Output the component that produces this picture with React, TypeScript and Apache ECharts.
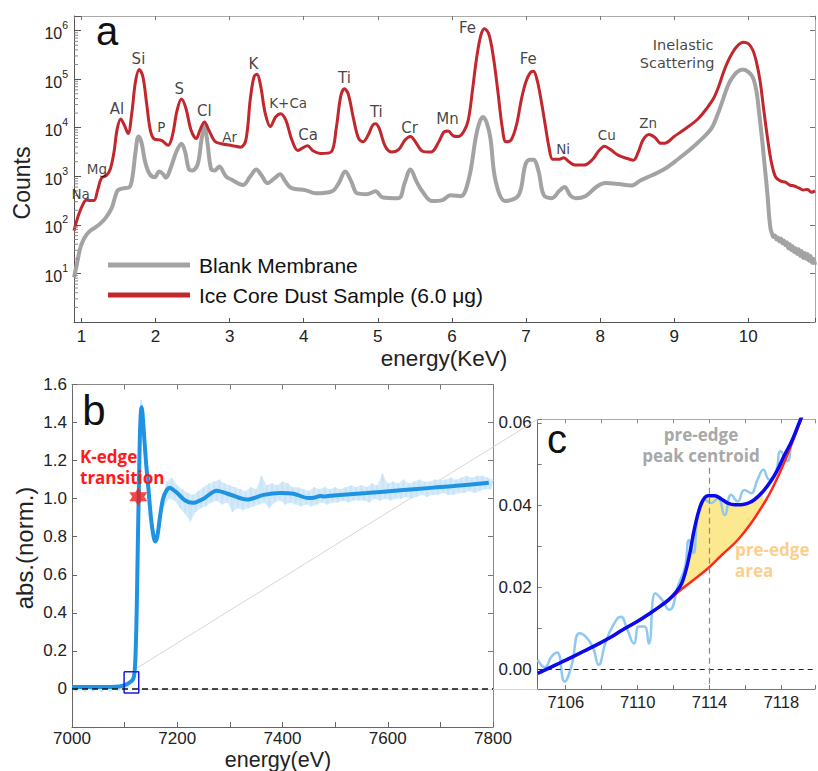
import React, { useEffect, useRef } from 'react';
import * as echarts from 'echarts';

// ---------- Panel a : XRF spectra, [energy keV, log10(counts)] ----------
const blankMembrane: number[][] = [
  [0.9, 0.92], [0.94, 1.2], [0.98, 1.5], [1.02, 1.67], [1.07, 1.8], [1.12, 1.88], [1.18, 1.94], [1.25, 2.02],
  [1.33, 2.15], [1.41, 2.35], [1.45, 2.55], [1.49, 2.71], [1.56, 2.75], [1.65, 2.78], [1.69, 3.0], [1.73, 3.5],
  [1.77, 3.82], [1.81, 3.7], [1.86, 3.3], [1.92, 3.05], [1.99, 2.98], [2.05, 3.1], [2.1, 3.05], [2.14, 2.97],
  [2.2, 3.15], [2.28, 3.5], [2.35, 3.67], [2.4, 3.5], [2.45, 3.15], [2.5, 3.12], [2.57, 3.25], [2.62, 3.75],
  [2.66, 4.04], [2.7, 3.7], [2.75, 3.15], [2.8, 3.12], [2.86, 3.2], [2.95, 3.0], [3.04, 2.92], [3.18, 2.82],
  [3.28, 3.0], [3.36, 3.14], [3.43, 3.02], [3.51, 2.86], [3.6, 2.95], [3.68, 3.04], [3.75, 2.9], [3.83, 2.76],
  [4.03, 2.71], [4.16, 2.65], [4.38, 2.69], [4.47, 2.85], [4.56, 3.1], [4.64, 2.9], [4.72, 2.65], [4.85, 2.63],
  [4.97, 2.69], [5.06, 2.57], [5.28, 2.55], [5.36, 2.85], [5.44, 3.14], [5.52, 2.9], [5.6, 2.69], [5.73, 2.49],
  [5.87, 2.51], [5.98, 2.61], [6.12, 2.59], [6.23, 2.96], [6.32, 3.78], [6.37, 4.1], [6.42, 4.22], [6.47, 4.1],
  [6.52, 3.78], [6.59, 2.9], [6.72, 2.49], [6.9, 2.61], [6.99, 3.23], [7.05, 3.34], [7.1, 3.34], [7.17, 3.1],
  [7.24, 2.61], [7.35, 2.55], [7.45, 2.7], [7.52, 2.78], [7.6, 2.6], [7.67, 2.55], [7.8, 2.59], [7.95, 2.78],
  [8.07, 2.86], [8.25, 2.84], [8.42, 2.81], [8.55, 2.92], [8.7, 3.02], [8.88, 3.16], [9.05, 3.35], [9.23, 3.57],
  [9.38, 3.78], [9.5, 3.98], [9.58, 4.25], [9.66, 4.59], [9.72, 4.85], [9.77, 5.0], [9.85, 5.15], [9.93, 5.2],
  [10.0, 5.15], [10.06, 5.04], [10.11, 4.75], [10.15, 4.25], [10.19, 3.7], [10.22, 3.23], [10.26, 2.6], [10.28, 2.2],
  [10.3, 1.92], [10.32, 1.82], [10.34, 1.75], [10.36, 1.78], [10.38, 1.7], [10.4, 1.74], [10.42, 1.66], [10.44, 1.72],
  [10.46, 1.62], [10.48, 1.68], [10.5, 1.58], [10.52, 1.64], [10.54, 1.52], [10.56, 1.6], [10.58, 1.48], [10.6, 1.56],
  [10.62, 1.44], [10.64, 1.52], [10.66, 1.4], [10.68, 1.5], [10.7, 1.36], [10.72, 1.46], [10.74, 1.32], [10.76, 1.42],
  [10.78, 1.3], [10.8, 1.4], [10.82, 1.26], [10.84, 1.36], [10.86, 1.22], [10.88, 1.3], [10.9, 1.18],
];

const iceCoreDust: number[][] = [
  [0.9, 1.88], [0.96, 2.2], [1.03, 2.45], [1.07, 2.51], [1.12, 2.5], [1.17, 2.5], [1.22, 2.72], [1.27, 2.96],
  [1.34, 3.02], [1.39, 3.15], [1.44, 3.5], [1.48, 3.95], [1.53, 4.18], [1.58, 4.05], [1.63, 3.88], [1.68, 4.3],
  [1.73, 4.95], [1.78, 5.2], [1.83, 5.05], [1.88, 4.5], [1.93, 3.95], [1.98, 3.77], [2.08, 3.74], [2.17, 3.64],
  [2.23, 3.85], [2.29, 4.35], [2.35, 4.59], [2.41, 4.4], [2.48, 3.95], [2.55, 3.78], [2.6, 3.95], [2.66, 4.12],
  [2.72, 3.95], [2.8, 3.72], [2.89, 3.67], [3.04, 3.63], [3.15, 3.6], [3.22, 3.75], [3.28, 4.6], [3.33, 5.05],
  [3.37, 5.1], [3.42, 4.85], [3.48, 4.3], [3.55, 4.02], [3.62, 4.22], [3.69, 4.29], [3.76, 4.15], [3.84, 3.75],
  [3.92, 3.53], [3.98, 3.58], [4.05, 3.63], [4.13, 3.52], [4.23, 3.47], [4.37, 3.5], [4.44, 4.0], [4.5, 4.65],
  [4.55, 4.8], [4.6, 4.7], [4.67, 4.2], [4.74, 3.78], [4.8, 3.71], [4.87, 3.85], [4.93, 4.05], [4.97, 4.08],
  [5.02, 3.98], [5.1, 3.62], [5.19, 3.5], [5.28, 3.55], [5.37, 3.75], [5.44, 3.82], [5.52, 3.68], [5.6, 3.52],
  [5.72, 3.5], [5.82, 3.7], [5.9, 3.92], [5.95, 3.93], [6.02, 3.83], [6.09, 3.82], [6.16, 3.92], [6.22, 4.15],
  [6.28, 4.8], [6.33, 5.4], [6.39, 5.9], [6.44, 6.04], [6.5, 5.92], [6.56, 5.45], [6.62, 4.75], [6.68, 4.0],
  [6.73, 3.71], [6.8, 3.75], [6.87, 4.05], [6.94, 4.6], [7.0, 4.95], [7.06, 5.14], [7.1, 5.16], [7.15, 4.98],
  [7.2, 4.6], [7.26, 4.05], [7.31, 3.6], [7.36, 3.35], [7.44, 3.35], [7.51, 3.38], [7.58, 3.3], [7.66, 3.23],
  [7.78, 3.23], [7.9, 3.35], [7.98, 3.52], [8.06, 3.62], [8.14, 3.55], [8.25, 3.43], [8.38, 3.36], [8.45, 3.33],
  [8.51, 3.48], [8.58, 3.75], [8.66, 3.86], [8.74, 3.8], [8.82, 3.68], [8.87, 3.68], [9.0, 3.82], [9.15, 3.98],
  [9.32, 4.18], [9.45, 4.42], [9.53, 4.6], [9.6, 4.85], [9.66, 5.12], [9.72, 5.35], [9.78, 5.53], [9.85, 5.68],
  [9.93, 5.76], [10.0, 5.73], [10.06, 5.6], [10.11, 5.35], [10.16, 4.95], [10.21, 4.35], [10.26, 3.78], [10.31, 3.3],
  [10.37, 2.98], [10.44, 2.9], [10.5, 2.88], [10.56, 2.82], [10.62, 2.8], [10.68, 2.76], [10.74, 2.72], [10.8, 2.73],
  [10.85, 2.67], [10.9, 2.7],
];

// element annotations: [text, energy keV, log10(counts)]
const elementLabels: [string, number, number][] = [
  ['Na', 0.99, 2.63], ['Mg', 1.21, 3.16], ['Al', 1.48, 4.39], ['Si', 1.77, 5.41], ['P', 2.08, 4.01],
  ['S', 2.32, 4.8], ['Cl', 2.66, 4.34], ['Ar', 3.0, 3.81], ['K', 3.32, 5.31], ['K+Ca', 3.79, 4.51],
  ['Ca', 4.06, 3.84], ['Ti', 4.55, 5.02], ['Ti', 4.98, 4.32], ['Cr', 5.43, 4.0], ['Mn', 5.94, 4.17],
  ['Fe', 6.21, 6.05], ['Fe', 7.03, 5.42], ['Ni', 7.5, 3.57], ['Cu', 8.09, 3.86], ['Zn', 8.65, 4.1],
  ['Inelastic', 9.12, 5.7], ['Scattering', 9.04, 5.33],
];
const smallLabels = ['Na', 'Mg', 'P', 'Ar', 'K+Ca', 'Ni', 'Cu', 'Zn'];

// ---------- Panel b : XANES, [energy eV, normalized absorption] ----------
const xanesSmooth: number[][] = [
  [7000, 0.01], [7050, 0.01], [7090, 0.013], [7100, 0.02], [7110, 0.035], [7116, 0.05], [7119, 0.09],
  [7121, 0.2], [7123, 0.42], [7125, 0.75], [7127, 1.05], [7129, 1.33], [7131, 1.46], [7132.5, 1.48],
  [7134, 1.45], [7137, 1.33], [7141, 1.18], [7145, 1.06], [7150, 0.9], [7155, 0.8], [7158, 0.775],
  [7162, 0.8], [7167, 0.9], [7173, 1.0], [7180, 1.045], [7186, 1.058], [7193, 1.045], [7200, 1.03],
  [7215, 0.99], [7230, 0.978], [7250, 1.0], [7275, 1.042], [7300, 1.022], [7332, 0.995], [7364, 1.02],
  [7395, 1.03], [7421, 1.026], [7449, 1.003], [7460, 1.005], [7472, 1.014], [7480, 1.012], [7497, 1.017],
  [7560, 1.03], [7624, 1.044], [7687, 1.058], [7725, 1.066], [7792, 1.084],
];

const xanesRawEdge: number[][] = [
  [7000, 0.0], [7008, -0.012], [7016, 0.01], [7024, -0.014], [7032, 0.008], [7040, -0.012], [7048, 0.011],
  [7056, -0.015], [7064, 0.009], [7072, -0.012], [7080, 0.012], [7088, -0.008], [7096, 0.014], [7104, 0.004],
  [7110, 0.03], [7115, 0.055], [7118, 0.09], [7121, 0.21], [7123, 0.45], [7125, 0.8], [7127, 1.12],
  [7129, 1.4], [7131, 1.52], [7133, 1.49], [7136, 1.4], [7140, 1.24], [7145, 1.08], [7150, 0.9],
  [7155, 0.79], [7159, 0.765], [7163, 0.8], [7167, 0.9],
];
// noisy post-edge raw data (alternating high / low readings)
const xanesRawPost: number[][] = [
  [7170, 0.99], [7175, 0.96], [7180, 1.09], [7185, 1.0], [7190, 1.11], [7195, 0.99], [7200, 1.07],
  [7205, 0.95], [7210, 1.05], [7215, 0.92], [7220, 1.03], [7225, 0.88], [7230, 1.02], [7235, 0.93],
  [7240, 1.04], [7245, 0.95], [7250, 1.06], [7255, 0.96], [7260, 1.08], [7265, 0.98], [7270, 1.09],
  [7275, 0.99], [7280, 1.1], [7285, 0.97], [7290, 1.08], [7295, 0.98], [7300, 1.07], [7305, 0.93],
  [7310, 1.06], [7315, 0.95], [7320, 1.05], [7325, 0.94], [7330, 1.04], [7335, 0.95], [7340, 1.06],
  [7345, 0.96], [7350, 1.05], [7355, 0.97], [7360, 1.12], [7365, 0.98], [7370, 1.07], [7375, 0.95],
  [7380, 1.08], [7385, 0.98], [7390, 1.07], [7395, 0.99], [7400, 1.09], [7405, 0.97], [7410, 1.08],
  [7415, 0.98], [7420, 1.06], [7425, 0.97], [7430, 1.06], [7435, 0.96], [7440, 1.05], [7445, 0.97],
  [7450, 1.04], [7455, 0.96], [7460, 1.06], [7465, 0.97], [7470, 1.05], [7475, 0.98], [7480, 1.06],
  [7485, 0.97], [7490, 1.05], [7495, 0.98], [7500, 1.06], [7505, 0.98], [7510, 1.05], [7515, 0.99],
  [7520, 1.06], [7525, 0.98], [7530, 1.07], [7535, 0.99], [7540, 1.06], [7545, 0.99], [7550, 1.07],
  [7555, 0.99], [7560, 1.06], [7565, 0.98], [7570, 1.08], [7575, 1.0], [7580, 1.07], [7585, 0.99],
  [7590, 1.13], [7595, 1.0], [7600, 1.08], [7605, 0.99], [7610, 1.09], [7615, 1.0], [7620, 1.08],
  [7625, 1.0], [7630, 1.1], [7635, 1.01], [7640, 1.08], [7645, 1.0], [7650, 1.09], [7655, 1.01],
  [7660, 1.1], [7665, 1.02], [7670, 1.09], [7675, 1.01], [7680, 1.09], [7685, 1.02], [7690, 1.1],
  [7695, 1.02], [7700, 1.1], [7705, 1.03], [7710, 1.1], [7715, 1.02], [7720, 1.11], [7725, 1.02],
  [7730, 1.1], [7735, 1.03], [7740, 1.11], [7745, 1.03], [7750, 1.12], [7755, 1.04], [7760, 1.11],
  [7765, 1.03], [7770, 1.12], [7775, 1.04], [7780, 1.12], [7785, 1.05], [7790, 1.11], [7795, 1.05],
  [7800, 1.1],
];
const edgePoint = [7126, 1.01];
const zoomBox: number[][] = [[7099, 0.091], [7126.8, 0.091], [7126.8, -0.021], [7099, -0.021], [7099, 0.091]];

// ---------- Panel c : pre-edge ----------
const preEdgeRaw: number[][] = [
  [7104.44, 0.0023], [7104.84, 0.0005], [7105.21, 0.0031], [7105.52, 0.0041], [7105.94, -0.003],
  [7106.31, 0.0007], [7106.77, 0.0088], [7107.1, 0.008], [7107.5, 0.0055], [7107.83, 0.0011],
  [7108.2, 0.0063], [7108.6, 0.0104], [7109.06, 0.0128], [7109.43, 0.0096], [7109.8, 0.0063],
  [7110.07, 0.0104], [7110.38, 0.0104], [7110.62, 0.0063], [7110.99, 0.0185], [7111.36, 0.0169],
  [7111.76, 0.0145], [7112.27, 0.0206], [7112.64, 0.025], [7112.86, 0.0315], [7113.1, 0.0283],
  [7113.37, 0.038], [7113.74, 0.0413], [7114.11, 0.0405], [7114.47, 0.0417], [7114.84, 0.0376],
  [7115.21, 0.0425], [7115.57, 0.0409], [7115.94, 0.0437], [7116.31, 0.0429], [7116.67, 0.0462],
  [7117.0, 0.0486], [7117.32, 0.0462], [7117.68, 0.0478], [7117.96, 0.0531], [7118.32, 0.0507],
  [7118.6, 0.0559], [7118.91, 0.0592], [7119.2, 0.0616],
];
const preEdgeFit: number[][] = [
  [7104.44, -0.001], [7105.5, 0.0012], [7106.03, 0.0023], [7107.0, 0.0044], [7107.69, 0.0059],
  [7108.5, 0.0078], [7109.15, 0.0096], [7110.0, 0.0117], [7110.71, 0.0137], [7111.3, 0.0155],
  [7111.72, 0.0169], [7112.1, 0.0186], [7112.46, 0.021], [7112.83, 0.0267], [7113.19, 0.0348],
  [7113.56, 0.0405], [7113.92, 0.0423], [7114.29, 0.0423], [7114.65, 0.0415], [7115.02, 0.0405],
  [7115.4, 0.0401], [7115.76, 0.0401], [7116.12, 0.0404], [7116.49, 0.0413], [7116.95, 0.0432],
  [7117.41, 0.0458], [7117.8, 0.0487], [7118.14, 0.0519], [7118.6, 0.0558], [7119.02, 0.0604],
  [7119.5, 0.0655],
];
const preEdgeBaseline: number[][] = [
  [7104.44, -0.001], [7105.5, 0.0012], [7106.03, 0.0023], [7107.0, 0.0044], [7107.69, 0.0059],
  [7108.5, 0.0078], [7109.15, 0.0096], [7110.0, 0.0117], [7110.71, 0.0137], [7111.5, 0.0161],
  [7112.27, 0.0189], [7113.0, 0.0214], [7113.92, 0.0246], [7114.7, 0.0279], [7115.57, 0.0315],
  [7116.3, 0.0355], [7117.04, 0.0405], [7117.41, 0.0433], [7118.14, 0.0502], [7119.02, 0.06],
  [7119.5, 0.0655],
];
const centroidEnergy = 7114;
const fillRange = [7110.7, 7117.1];

const SANS = '"Liberation Sans", Arial, sans-serif';
const VERD = '"DejaVu Sans", Verdana, sans-serif';
const OPEN = '"Open Sans", sans-serif';

const tick = (len: number, color = '#555') => ({ show: true, inside: true, length: len, lineStyle: { color, width: 1 } });
const line = (color: string) => ({ show: true, onZero: false, lineStyle: { color, width: 1 } });
const lbl = { fontFamily: SANS, fontSize: 17, color: '#222' };

const isInt = (v: number) => Math.abs(v - Math.round(v)) < 1e-6;

const starPath =
  'path://M0,-10 L2.9,-5 L8.66,-5 L5.8,0 L8.66,5 L2.9,5 L0,10 L-2.9,5 L-8.66,5 L-5.8,0 L-8.66,-5 L-2.9,-5 Z';

function buildOption(): any {
  const minorLog: number[][] = [];
  for (let n = 0; n <= 6; n++) {
    for (let k = 2; k <= 9; k++) {
      const v = n + Math.log10(k);
      if (v < 6.3) minorLog.push([0.9, v]);
    }
  }
  const annot = (x: number, y: number, text: string, fill: string, align: string) => ({
    type: 'text', z: 10, x, y,
    style: {
      text, fontSize: 17, fontWeight: 'bold', fontFamily: OPEN, fill, align,
      verticalAlign: 'middle', lineHeight: 21,
    },
  });
  return {
    animation: false,
    backgroundColor: '#fff',
    grid: [
      { left: 74, top: 16, width: 743, height: 306 },
      { left: 72, top: 384.5, width: 421, height: 342.5 },
      { left: 537.7, top: 419.3, width: 280.3, height: 269.7 },
    ],
    legend: {
      data: ['Blank Membrane', 'Ice Core Dust Sample (6.0 μg)'],
      orient: 'vertical', left: 103, top: 249.5, itemWidth: 82, itemHeight: 5, itemGap: 9,
      icon: 'rect', selectedMode: false,
      textStyle: { fontFamily: SANS, fontSize: 21, color: '#111', padding: [0, 0, 0, 4] },
    },
    xAxis: [
      {
        type: 'value', gridIndex: 0, position: 'bottom', min: 0.9, max: 10.9, splitNumber: 10,
        axisLine: line('#555'), axisTick: tick(4), splitLine: { show: false },
        axisLabel: { ...lbl, margin: 6, formatter: (v: number) => (isInt(v) ? String(Math.round(v)) : '') },
      },
      {
        type: 'value', gridIndex: 0, position: 'top', min: 0.9, max: 10.9, splitNumber: 10,
        axisLine: line('#aaa'), axisTick: tick(4, '#777'), splitLine: { show: false }, axisLabel: { show: false },
      },
      {
        type: 'value', gridIndex: 1, position: 'bottom', min: 7000, max: 7800, interval: 100,
        axisLine: line('#666'), axisTick: tick(5, '#666'), splitLine: { show: false },
        axisLabel: { ...lbl, margin: 3, formatter: (v: number) => (Math.round(v) % 200 === 0 ? String(Math.round(v)) : '') },
      },
      {
        type: 'value', gridIndex: 1, position: 'top', min: 7000, max: 7800, interval: 100,
        axisLine: line('#888'), axisTick: tick(5, '#777'), splitLine: { show: false }, axisLabel: { show: false },
      },
      {
        type: 'value', gridIndex: 2, position: 'bottom', min: 7104.44, max: 7119.87, splitNumber: 8,
        axisLine: line('#777'), axisTick: tick(4, '#777'), splitLine: { show: false },
        axisLabel: {
          ...lbl, fontSize: 16.5, margin: 4,
          formatter: (v: number) => (isInt(v) && (Math.round(v) - 7106) % 4 === 0 ? String(Math.round(v)) : ''),
        },
      },
      {
        type: 'value', gridIndex: 2, position: 'top', min: 7104.44, max: 7119.87, splitNumber: 8,
        axisLine: line('#aaa'), axisTick: tick(4, '#888'), splitLine: { show: false }, axisLabel: { show: false },
      },
    ],
    yAxis: [
      {
        type: 'value', gridIndex: 0, position: 'left', min: 0, max: 6.3, interval: 1,
        axisLine: line('#555'), axisTick: tick(7), splitLine: { show: false },
        axisLabel: {
          margin: 6, color: '#222',
          formatter: (v: number) => (isInt(v) && v >= 1 ? `{b|10}{s|${Math.round(v)}}` : ''),
          rich: {
            b: { fontFamily: SANS, fontSize: 16, color: '#222', lineHeight: 22, verticalAlign: 'bottom' },
            s: { fontFamily: SANS, fontSize: 10.5, color: '#222', lineHeight: 22, verticalAlign: 'top' },
          },
        },
      },
      {
        type: 'value', gridIndex: 0, position: 'right', min: 0, max: 6.3, interval: 1,
        axisLine: line('#aaa'), axisTick: tick(5, '#777'), splitLine: { show: false }, axisLabel: { show: false },
      },
      {
        type: 'value', gridIndex: 1, position: 'left', min: -0.2, max: 1.6, interval: 0.2,
        axisLine: line('#666'), axisTick: tick(5, '#666'), splitLine: { show: false },
        axisLabel: {
          ...lbl, margin: 5,
          formatter: (v: number) => (v < -0.01 ? '' : Math.abs(v) < 1e-9 ? '0' : v.toFixed(1)),
        },
      },
      {
        type: 'value', gridIndex: 1, position: 'right', min: -0.2, max: 1.6, interval: 0.2,
        axisLine: line('#888'), axisTick: tick(5, '#777'), splitLine: { show: false }, axisLabel: { show: false },
      },
      {
        type: 'value', gridIndex: 2, position: 'left', min: -0.0048, max: 0.0609, splitNumber: 7,
        axisLine: line('#666'), axisTick: tick(4, '#777'), splitLine: { show: false },
        axisLabel: {
          ...lbl, margin: 6,
          formatter: (v: number) => {
            const h = v * 100;
            if (Math.abs(h - Math.round(h)) > 1e-6) return '';
            const r = Math.round(h);
            return r % 2 === 0 && r >= 0 && r <= 6 ? (r / 100).toFixed(2) : '';
          },
        },
      },
    ],
    series: [
      // ---- panel a
      {
        name: 'Blank Membrane', type: 'line', xAxisIndex: 0, yAxisIndex: 0, data: blankMembrane,
        symbol: 'none', smooth: 0.35, color: '#a3a3a3', lineStyle: { color: '#a3a3a3', width: 4 }, z: 2,
      },
      {
        name: 'Ice Core Dust Sample (6.0 μg)', type: 'line', xAxisIndex: 0, yAxisIndex: 0, data: iceCoreDust,
        symbol: 'none', smooth: 0.35, color: '#c1272d', lineStyle: { color: '#c1272d', width: 3 }, z: 3,
      },
      {
        type: 'custom', xAxisIndex: 0, yAxisIndex: 0, data: minorLog, silent: true, z: 4,
        renderItem: (_p: any, api: any) => {
          const pt = api.coord([api.value(0), api.value(1)]);
          return {
            type: 'line',
            shape: { x1: pt[0], y1: pt[1], x2: pt[0] + 4, y2: pt[1] },
            style: { stroke: '#888', lineWidth: 1 },
          };
        },
      },
      {
        type: 'scatter', xAxisIndex: 0, yAxisIndex: 0, symbolSize: 0, silent: true, z: 6,
        data: elementLabels.map(([t, e, l]) => ({
          name: t, value: [e, l],
          label: { fontSize: smallLabels.includes(t) ? 13.5 : t.length > 4 ? 14.5 : 15 },
        })),
        label: {
          show: true, position: 'inside', formatter: (p: any) => p.name,
          fontFamily: VERD, color: '#111', align: 'center', verticalAlign: 'middle',
        },
      },
      // ---- panel b
      {
        type: 'custom', xAxisIndex: 2, yAxisIndex: 2, data: [[7400, 1]], silent: true, z: 1,
        renderItem: (_p: any, api: any) => {
          const highs = xanesRawPost.filter((_q, i) => i % 2 === 0).map((p) => api.coord(p));
          const lows = xanesRawPost.filter((_q, i) => i % 2 === 1).map((p) => api.coord(p)).reverse();
          return { type: 'polygon', shape: { points: [...highs, ...lows] }, style: { fill: '#d6ebfa' } };
        },
      },
      {
        type: 'line', xAxisIndex: 2, yAxisIndex: 2, data: [...xanesRawEdge, ...xanesRawPost], symbol: 'none',
        lineStyle: { color: '#c8e4f8', width: 1.5 }, z: 2,
        markLine: {
          silent: true, symbol: 'none', label: { show: false },
          lineStyle: { color: '#111', type: [6, 4], width: 1.5 },
          data: [{ yAxis: 0 }],
        },
      },
      {
        type: 'line', xAxisIndex: 2, yAxisIndex: 2, data: xanesSmooth, symbol: 'none', smooth: 0.3,
        lineStyle: { color: '#1e93e3', width: 4 }, z: 3,
      },
      {
        type: 'line', xAxisIndex: 2, yAxisIndex: 2, data: zoomBox, symbol: 'none',
        lineStyle: { color: '#1a1ae6', width: 1.5 }, z: 4,
      },
      {
        type: 'scatter', xAxisIndex: 2, yAxisIndex: 2, data: [edgePoint], symbol: starPath, symbolSize: 18,
        itemStyle: { color: '#f21a1a' }, z: 5, silent: true,
      },
      // ---- panel c
      {
        type: 'custom', xAxisIndex: 4, yAxisIndex: 4, data: [[7114, 0.03]], silent: true, z: 1,
        renderItem: (_p: any, api: any) => {
          const top = preEdgeFit.filter((p) => p[0] >= fillRange[0] && p[0] <= fillRange[1]).map((p) => api.coord(p));
          const bot = preEdgeBaseline
            .filter((p) => p[0] >= fillRange[0] && p[0] <= fillRange[1])
            .map((p) => api.coord(p))
            .reverse();
          return { type: 'polygon', shape: { points: [...top, ...bot] }, style: { fill: '#fce98f' } };
        },
      },
      {
        type: 'line', xAxisIndex: 4, yAxisIndex: 4, data: preEdgeRaw, symbol: 'none', smooth: 0.5,
        lineStyle: { color: '#8fc8f0', width: 2.5 }, z: 2,
        markLine: {
          silent: true, symbol: 'none', label: { show: false },
          data: [
            { yAxis: 0, lineStyle: { color: '#222', type: [5, 4], width: 1.2 } },
            [
              { coord: [centroidEnergy, 0.0491], lineStyle: { color: '#8a8a8a', type: [6, 4], width: 1.2 } },
              { coord: [centroidEnergy, -0.0048] },
            ],
          ],
        },
      },
      {
        type: 'line', xAxisIndex: 4, yAxisIndex: 4, data: preEdgeBaseline, symbol: 'none', smooth: 0.4,
        lineStyle: { color: '#ff2a1a', width: 2.5 }, z: 3,
      },
      {
        type: 'line', xAxisIndex: 4, yAxisIndex: 4, data: preEdgeFit, symbol: 'none', smooth: 0.4,
        lineStyle: { color: '#0a0aee', width: 3.5 }, z: 4,
      },
    ],
    graphic: [
      { type: 'line', z: 1, shape: { x1: 137, y1: 668, x2: 537.7, y2: 419.3 }, style: { stroke: '#d6d6d6', lineWidth: 1 } },
      { type: 'line', z: 1, shape: { x1: 139, y1: 689.5, x2: 537.7, y2: 689.5 }, style: { stroke: '#d6d6d6', lineWidth: 1 } },
      { type: 'text', z: 10, x: 107, y: 31, style: { text: 'a', fontSize: 40, fontFamily: SANS, fill: '#111', align: 'center', verticalAlign: 'middle' } },
      { type: 'text', z: 10, x: 94, y: 410, style: { text: 'b', fontSize: 42, fontFamily: SANS, fill: '#111', align: 'center', verticalAlign: 'middle' } },
      { type: 'text', z: 10, x: 557, y: 439, style: { text: 'c', fontSize: 40, fontFamily: SANS, fill: '#111', align: 'center', verticalAlign: 'middle' } },
      { type: 'text', z: 10, x: 22, y: 183, rotation: Math.PI / 2, style: { text: 'Counts', fontSize: 23, fontFamily: SANS, fill: '#222', align: 'center', verticalAlign: 'middle' } },
      { type: 'text', z: 10, x: 444, y: 358.5, style: { text: 'energy(KeV)', fontSize: 22.5, fontFamily: SANS, fill: '#222', align: 'center', verticalAlign: 'middle' } },
      { type: 'text', z: 10, x: 24, y: 548, rotation: Math.PI / 2, style: { text: 'abs.(norm.)', fontSize: 24, fontFamily: SANS, fill: '#222', align: 'center', verticalAlign: 'middle' } },
      { type: 'text', z: 10, x: 278, y: 760, style: { text: 'energy(eV)', fontSize: 21.5, fontFamily: SANS, fill: '#222', align: 'center', verticalAlign: 'middle' } },
      annot(80, 467, 'K-edge\ntransition', '#ff1a1a', 'left'),
      annot(701, 444.5, 'pre-edge\npeak centroid', '#a8a8a8', 'center'),
      annot(735, 560, 'pre-edge\narea', '#fbcf8e', 'left'),
    ],
  };
}

export default function App() {
  const ref = useRef<HTMLDivElement>(null);
  useEffect(() => {
    if (!ref.current) return;
    const chart = echarts.init(ref.current, undefined, { renderer: 'svg' });
    chart.setOption(buildOption());
    return () => chart.dispose();
  }, []);
  return (
    <div
      ref={ref}
      style={{ position: 'fixed', left: 0, top: 0, width: 818, height: 771, background: '#fff' }}
    />
  );
}
